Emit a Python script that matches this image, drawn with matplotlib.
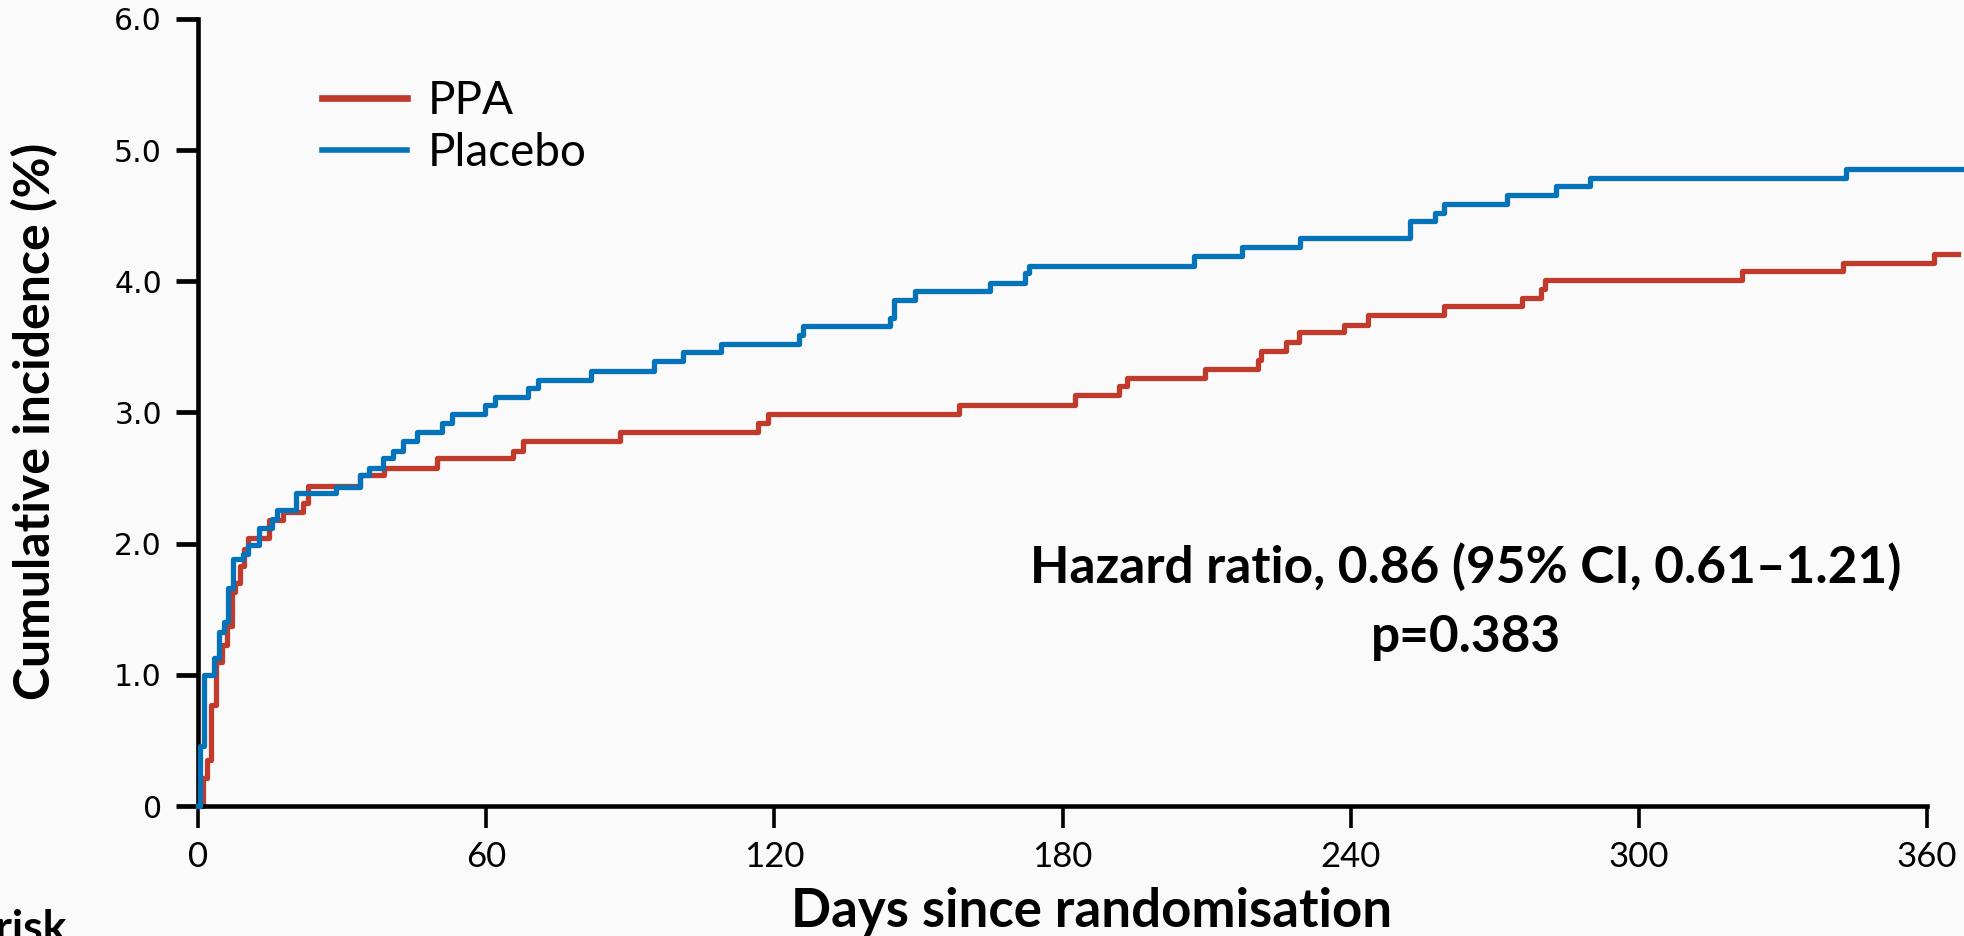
import matplotlib.pyplot as plt
from matplotlib.lines import Line2D

# Cumulative incidence (%), step curves
ppa_days = [0, 1.1, 1.8, 2.8, 3.7, 4.9, 6.0, 7.0, 7.8, 8.75, 9.6, 10.5, 14.8, 17.8,
            21.9, 22.8, 33.7, 38.7, 49.7, 65.6, 67.7, 87.9, 116.7, 118.6, 158.5,
            182.7, 191.7, 193.4, 209.6, 220.8, 221.3, 226.6, 229.3, 238.7, 243.6,
            259.5, 275.6, 279.6, 280.4, 321.4, 342.5, 361.5, 366.4]
ppa_inc = [0, 0.21, 0.35, 0.77, 1.10, 1.23, 1.37, 1.63, 1.70, 1.83, 1.96, 2.04, 2.18,
           2.24, 2.31, 2.44, 2.52, 2.58, 2.65, 2.71, 2.78, 2.85, 2.92, 2.99, 3.06,
           3.13, 3.20, 3.26, 3.33, 3.40, 3.47, 3.54, 3.61, 3.67, 3.74, 3.81, 3.87,
           3.94, 4.01, 4.08, 4.14, 4.21, 4.21]

placebo_days = [0, 0.4, 1.25, 3.3, 4.4, 5.4, 6.3, 7.35, 9.4, 10.5, 12.6, 15.5, 16.5,
                20.5, 28.7, 33.7, 35.7, 38.6, 40.7, 42.6, 45.7, 50.7, 52.8, 59.8,
                61.8, 68.8, 70.7, 81.8, 94.9, 100.9, 108.8, 125.1, 126.0, 144.1,
                145.0, 149.2, 165.0, 172.2, 173.1, 207.3, 217.4, 229.4, 252.4,
                257.5, 259.5, 272.5, 282.7, 289.8, 343.1, 368.0]
placebo_inc = [0, 0.46, 1.00, 1.13, 1.33, 1.40, 1.66, 1.88, 1.92, 1.99, 2.12, 2.19,
               2.26, 2.39, 2.43, 2.52, 2.58, 2.65, 2.71, 2.78, 2.85, 2.92, 2.99,
               3.06, 3.12, 3.19, 3.25, 3.32, 3.39, 3.46, 3.52, 3.59, 3.66, 3.72,
               3.86, 3.93, 3.99, 4.06, 4.12, 4.19, 4.26, 4.33, 4.46, 4.52, 4.59,
               4.66, 4.73, 4.79, 4.86, 4.86]

x_ticks = [0, 60, 120, 180, 240, 300, 360]
y_ticks = [0, 1, 2, 3, 4, 5, 6]
y_tick_labels = ['0', '1.0', '2.0', '3.0', '4.0', '5.0', '6.0']

red = '#C13B2C'
blue = '#0473B9'
bg = '#FAFAFA'

W, H = 1964, 936
fig = plt.figure(figsize=(W / 100, H / 100), dpi=100, facecolor=bg)
ax = fig.add_axes([198 / W, 130 / H, (1927 - 198) / W, (806 - 19) / H])
ax.set_facecolor(bg)

ax.step(placebo_days, placebo_inc, where='post', color=blue, lw=3.8, clip_on=False, zorder=3)
ax.step(ppa_days, ppa_inc, where='post', color=red, lw=3.8, clip_on=False, zorder=2)

ax.set_xlim(0, 360)
ax.set_ylim(0, 6)
for s in ['top', 'right']:
    ax.spines[s].set_visible(False)
for s in ['left', 'bottom']:
    ax.spines[s].set_linewidth(3.3)

ax.set_xticks(x_ticks)
ax.set_xticklabels([str(t) for t in x_ticks], family='Lato', fontsize=25)
ax.set_yticks(y_ticks)
ax.set_yticklabels(y_tick_labels, family='DejaVu Sans', fontsize=21.5)
ax.tick_params(axis='x', length=16, width=2.6, pad=9)
ax.tick_params(axis='y', length=16, width=3.4, pad=10)

handles = [Line2D([], [], color=red, lw=4.8), Line2D([], [], color=blue, lw=4.0)]
leg = ax.legend(handles, ['PPA', 'Placebo'], loc='upper left', frameon=False,
                bbox_to_anchor=(322 / W, 1 - 80 / H), bbox_transform=fig.transFigure,
                borderpad=0, borderaxespad=0, handlelength=1.85, handletextpad=0.45,
                labelspacing=0.22, prop={'family': 'Lato', 'size': 33})

fig.text(34.5 / W, 1 - 421 / H, 'Cumulative incidence (%)', rotation=90,
         ha='center', va='center', family='Lato', weight='bold', fontsize=36)
fig.text(1092 / W, 1 - 927 / H, 'Days since randomisation', ha='center',
         va='baseline', family='Lato', weight='bold', fontsize=38)
fig.text(1466 / W, 1 - 583 / H, 'Hazard ratio, 0.86 (95% CI, 0.61\u20131.21)',
         ha='center', va='baseline', family='Lato', weight='bold', fontsize=37)
fig.text(1466 / W, 1 - 652 / H, 'p=0.383', ha='center', va='baseline',
         family='Lato', weight='bold', fontsize=37)
fig.text(67 / W, -6 / H, 'Number at risk', ha='right', va='baseline',
         family='Lato', weight='bold', fontsize=32)

fig.savefig('out.png', dpi=100, facecolor=bg)
